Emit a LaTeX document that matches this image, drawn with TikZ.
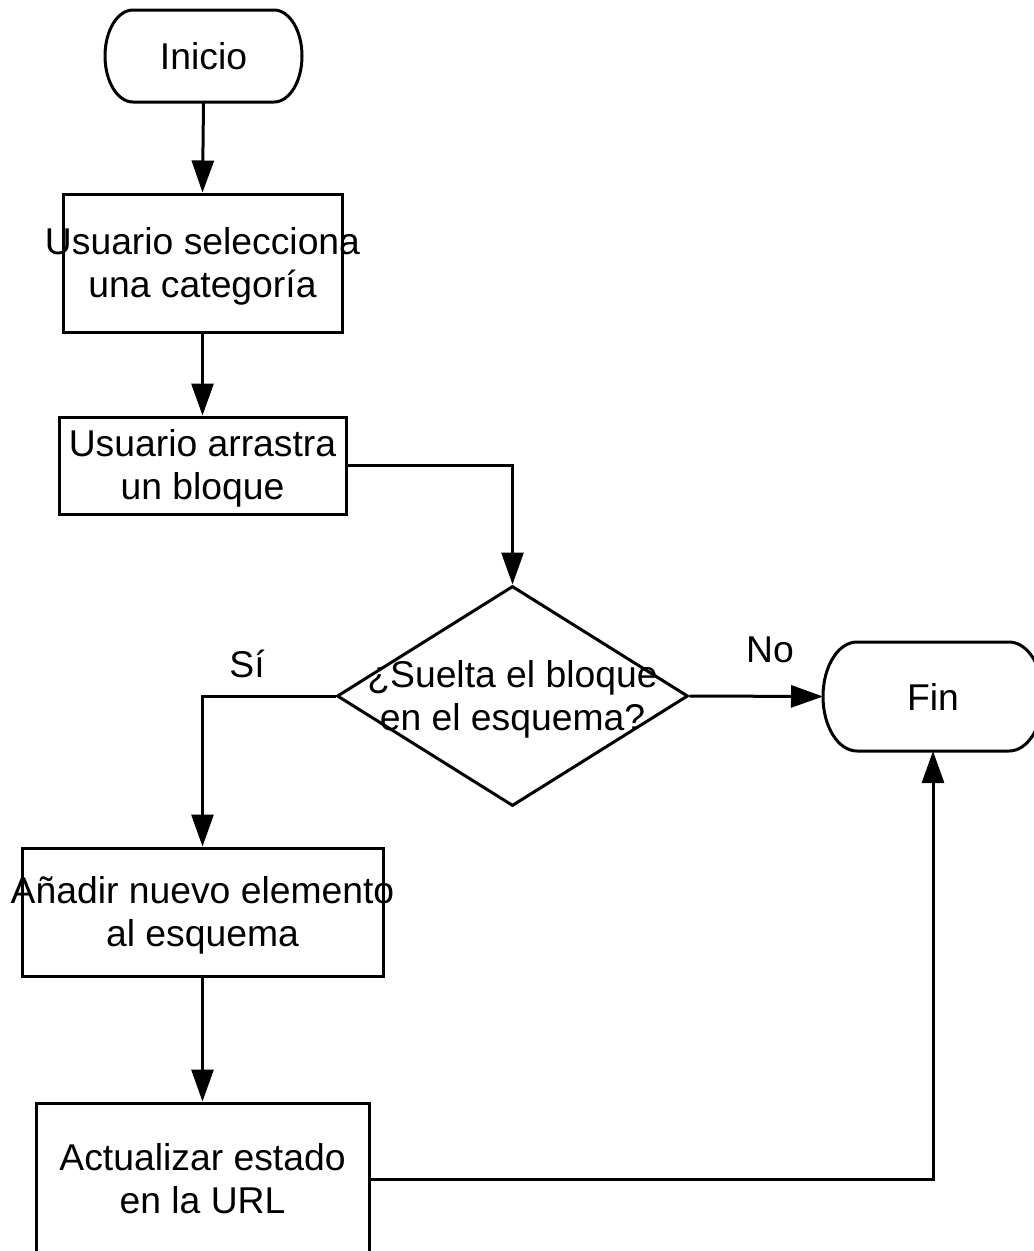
\documentclass[tikz,border=0pt]{standalone}
\usepackage{fontspec}
\setmainfont{Liberation Sans}
\usetikzlibrary{arrows.meta,shapes.geometric}
% a line that may stick out of its box, kept centred on the node,
% with a fixed strut so every two-line label sits at the same height
\newcommand\ctrline[1]{\makebox[0pt]{\rule[-7pt]{0pt}{40pt}#1}}
\begin{document}
\begin{tikzpicture}[x=1pt,y=1pt,
  line width=3pt,
  every node/.style={font=\fontsize{37.3}{43}\selectfont, inner sep=0pt},
  stepbox/.style={draw, rectangle, align=center},
  decision/.style={draw, diamond, align=center},
  terminal/.style={rectangle, align=center, outer sep=0pt},
  flow/.style={-{Triangle[length=32pt,width=22pt]}},
  lbl/.style={anchor=base},
]
\useasboundingbox (0,0) rectangle (1034,-1251);

% start / end terminals
\node[terminal, minimum width=197pt, minimum height=92pt] (inicio) at (203.5,-56) {Inicio};
\draw ([xshift=28pt]inicio.north west) -- ([xshift=-28pt]inicio.north east)
  arc[start angle=90, end angle=-90, x radius=28pt, y radius=46pt]
  -- ([xshift=28pt]inicio.south west)
  arc[start angle=270, end angle=90, x radius=28pt, y radius=46pt] -- cycle;

\node[terminal, minimum width=220pt, minimum height=109pt] (fin) at (933,-696.5) {Fin};
\draw ([xshift=34pt]fin.north west) -- ([xshift=-34pt]fin.north east)
  arc[start angle=90, end angle=-90, x radius=34pt, y radius=54.5pt]
  -- ([xshift=34pt]fin.south west)
  arc[start angle=270, end angle=90, x radius=34pt, y radius=54.5pt] -- cycle;

% process steps
\node[stepbox, minimum width=279pt, minimum height=138pt] (b1) at (202.5,-263)
  {\ctrline{Usuario selecciona}\\\ctrline{una categoría}};
\node[stepbox, minimum width=287pt, minimum height=97pt] (b2) at (202.5,-465.5)
  {\ctrline{Usuario arrastra}\\\ctrline{un bloque}};
\node[decision, minimum width=351pt, minimum height=220pt] (dec) at (512.5,-696)
  {\ctrline{¿Suelta el bloque}\\\ctrline{en el esquema?}};
\node[stepbox, minimum width=361pt, minimum height=128pt] (b3) at (202.5,-912)
  {\ctrline{Añadir nuevo elemento}\\\ctrline{al esquema}};
\node[stepbox, minimum width=333pt, minimum height=152pt] (b4) at (202.5,-1179)
  {\ctrline{Actualizar estado}\\\ctrline{en la URL}};

% branch labels
\node[lbl] (si) at (247,-677) {Sí};
\node[lbl] (no) at (770,-662) {No};

% connectors
\draw[flow] (inicio.south) -- (b1.north);
\draw[flow] (b1.south) -- (b2.north);
\draw[flow] (b2.east) -| (dec.north);
\draw[flow] (dec.east) -- (fin.west);
\draw[flow] (dec.west) -| (b3.north);
\draw[flow] (b3.south) -- (b4.north);
\draw[flow] (b4.east) -| (fin.south);
\end{tikzpicture}
\end{document}
